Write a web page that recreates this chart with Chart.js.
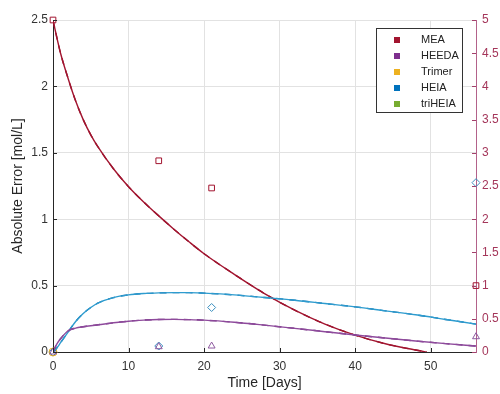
<!DOCTYPE html>
<html>
<head>
<meta charset="utf-8">
<script src="https://cdn.jsdelivr.net/npm/chart.js@4.4.0/dist/chart.umd.min.js"></script>
<style>
  html, body { margin: 0; padding: 0; background: #fff; }
  #wrap { position: relative; width: 500px; height: 394px; }
</style>
</head>
<body>
<div id="wrap"><canvas id="grafico" width="500" height="394"></canvas></div>
<script>
// model curves (left axis, mol/L)
const meaDias   = [0, 0.5, 1, 2, 3, 4, 5, 6, 8, 10, 12, 14, 16, 18, 20, 24, 28, 32, 36, 40, 44, 48, 49.5];
const meaModelo = [2.5, 2.37, 2.25, 2.06, 1.89, 1.75, 1.635, 1.54, 1.38, 1.245, 1.13, 1.025, 0.925, 0.83, 0.74, 0.585, 0.44, 0.315, 0.21, 0.127, 0.062, 0.015, 0];

const modeloDias   = [0, 0.5, 1, 2, 3, 4, 5, 6, 8, 10, 12, 14, 16, 18, 20, 24, 28, 32, 36, 40, 44, 48, 52, 56];
const heiaModelo   = [0, 0.03, 0.07, 0.15, 0.23, 0.29, 0.335, 0.37, 0.41, 0.43, 0.44, 0.445, 0.447, 0.447, 0.443, 0.43, 0.41, 0.39, 0.365, 0.34, 0.31, 0.28, 0.245, 0.21];
const heedaModelo  = [0, 0.06, 0.10, 0.16, 0.18, 0.19, 0.198, 0.205, 0.22, 0.232, 0.24, 0.245, 0.246, 0.244, 0.24, 0.224, 0.202, 0.178, 0.153, 0.128, 0.105, 0.083, 0.063, 0.045];

// sample points (right axis)
const amostraDias = [0, 14, 21, 56];
const meaAmostra    = [5.0, 2.88, 2.47, 1.0];
const heedaAmostra  = [0, 0.08, 0.09, 0.23];
const heiaAmostra   = [0, 0.09, 0.67, 2.55];
const trimerAmostra = [0, null, null, null];
const triheiaAmostra = [0, null, null, null];

const xTicks  = [0, 10, 20, 30, 40, 50];
const especies = ['MEA', 'HEEDA', 'Trimer', 'HEIA', 'triHEIA'];
const cores    = ['#A2142F', '#7E2F8E', '#EDB120', '#0072BD', '#77AC30'];

const pares = (xs, ys) => xs.map((x, i) => ({ x, y: ys[i] }));
const fmt = v => String(+Number(v).toFixed(2));

function linha(dias, vals, cor, dash) {
    return {
        data: pares(dias, vals), yAxisID: 'y', borderColor: cor, borderWidth: 1.4,
        borderDash: dash || [], pointRadius: 0, cubicInterpolationMode: 'monotone', showLine: true,
    };
}
function marcas(label, vals, cor, estilo) {
    return {
        label, data: pares(amostraDias, vals), yAxisID: 'y1', showLine: false, clip: false,
        pointStyle: estilo, pointRadius: 4, borderColor: cor, borderWidth: 1,
        pointBackgroundColor: 'rgba(0,0,0,0)',
    };
}

const legendaInterna = {
    id: 'legendaInterna',
    afterDraw(chart) {
        const ctx = chart.ctx;
        ctx.save();
        ctx.fillStyle = '#fff';
        ctx.fillRect(376, 28, 86, 84);
        ctx.strokeStyle = '#333';
        ctx.lineWidth = 1;
        ctx.strokeRect(376.5, 28.5, 86, 84);
        ctx.font = '11px "Liberation Sans", Arial, sans-serif';
        ctx.textBaseline = 'middle';
        especies.forEach((nome, i) => {
            const y = 40 + i * 16;
            ctx.fillStyle = cores[i];
            ctx.fillRect(394, y - 3, 6, 6);
            ctx.fillStyle = '#222';
            ctx.fillText(nome, 421, y);
        });
        ctx.restore();
    }
};

const ticksInternos = {
    id: 'ticksInternos',
    afterDraw(chart) {
        const { ctx, chartArea: a, scales } = chart;
        ctx.save();
        ctx.lineWidth = 1;
        ctx.strokeStyle = '#262626';
        ctx.beginPath();
        scales.x.ticks.forEach(t => {
            const px = Math.round(scales.x.getPixelForValue(t.value)) + 0.5;
            ctx.moveTo(px, a.bottom); ctx.lineTo(px, a.bottom - 4);
        });
        scales.y.ticks.forEach(t => {
            const py = Math.round(scales.y.getPixelForValue(t.value)) + 0.5;
            ctx.moveTo(a.left, py); ctx.lineTo(a.left + 4, py);
        });
        ctx.stroke();
        ctx.strokeStyle = '#a2406a';
        ctx.beginPath();
        scales.y1.ticks.forEach(t => {
            const py = Math.round(scales.y1.getPixelForValue(t.value)) + 0.5;
            ctx.moveTo(a.right, py); ctx.lineTo(a.right - 4, py);
        });
        ctx.stroke();
        ctx.restore();
    }
};

const fonte = { family: '"Liberation Sans", Arial, sans-serif', size: 12 };

new Chart(document.getElementById('grafico'), {
    type: 'scatter',
    data: {
        datasets: [
            linha(modeloDias, heedaModelo, '#8e4a9c'),
            linha(modeloDias, heedaModelo, '#6b2a7a', [7, 6]),
            linha(modeloDias, heiaModelo, '#2e9ccf'),
            linha(modeloDias, heiaModelo, '#0a6aa8', [7, 6]),
            linha(meaDias, meaModelo, '#A2142F'),
            linha(meaDias, meaModelo, '#8a1028', [7, 6]),
            marcas('MEA', meaAmostra, '#A2142F', 'rect'),
            marcas('HEEDA', heedaAmostra, '#8e5aa0', 'triangle'),
            marcas('Trimer', trimerAmostra, '#EDB120', 'circle'),
            marcas('HEIA', heiaAmostra, '#3b8fbf', 'rectRot'),
            marcas('triHEIA', triheiaAmostra, '#77AC30', 'rectRot'),
        ]
    },
    options: {
        responsive: false,
        animation: false,
        layout: { padding: { top: 20, right: 0, left: 0, bottom: 0 } },
        plugins: { legend: { display: false }, tooltip: { enabled: false } },
        scales: {
            x: {
                type: 'linear', min: 0, max: 56,
                afterBuildTicks: s => { s.ticks = xTicks.map(v => ({ value: v })); },
                afterFit: s => { s.height = 42; },
                grid: { color: '#e2e2e2', drawTicks: false },
                border: { color: '#262626' },
                ticks: { font: fonte, color: '#333', padding: 7, callback: fmt },
                title: { display: true, text: 'Time [Days]', font: { ...fonte, size: 14 }, color: '#262626', padding: 2 },
            },
            y: {
                position: 'left', min: 0, max: 2.5,
                afterFit: s => { s.width = 53; },
                grid: { color: '#e2e2e2', drawTicks: false },
                border: { color: '#262626' },
                ticks: { stepSize: 0.5, font: fonte, color: '#333', padding: 5, callback: fmt },
                title: { display: true, text: 'Absolute Error [mol/L]', font: { ...fonte, size: 14 }, color: '#262626', padding: 10 },
            },
            y1: {
                position: 'right', min: 0, max: 5,
                afterFit: s => { s.width = 24; },
                grid: { display: false, drawTicks: false },
                border: { color: '#b3628a' },
                ticks: { stepSize: 0.5, font: fonte, color: '#a4365a', padding: 6, callback: fmt },
            }
        }
    },
    plugins: [ticksInternos, legendaInterna]
});
</script>
</body>
</html>
